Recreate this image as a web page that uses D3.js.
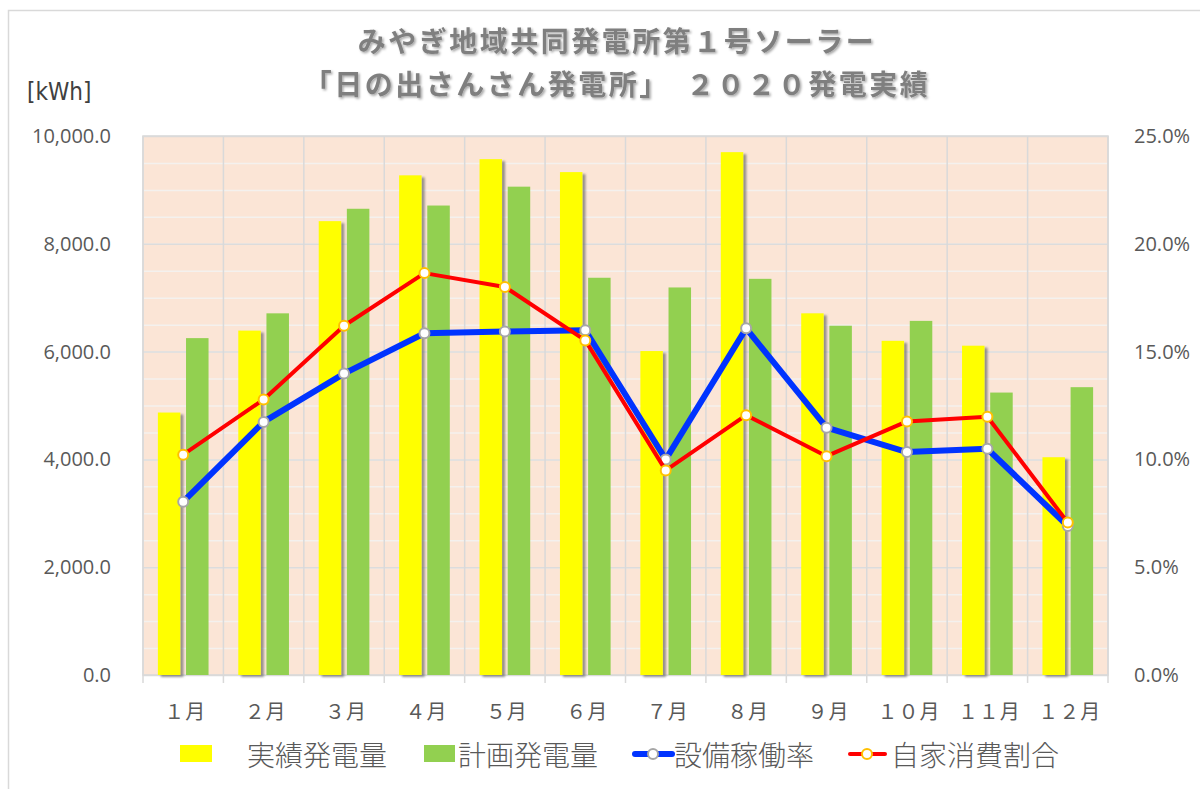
<!DOCTYPE html>
<head>
  <meta charset="utf-8">
  <script src="https://d3js.org/d3.v7.min.js"></script>
  <style>
  body { margin: 0; background: #fff; }
  #chart text { font-family: "Noto Sans CJK JP", "Noto Sans", sans-serif; fill: #595959; }
  #chart .num text { font-family: "Open Sans", "Noto Sans", sans-serif; font-size: 20px; }
  </style>
</head>

<body>
  <svg id="chart"></svg>
  <script>

    var months = ["１月", "２月", "３月", "４月", "５月", "６月", "７月", "８月", "９月", "１０月", "１１月", "１２月"];
    var actual = [4870, 6390, 8420, 9270, 9570, 9330, 6010, 9700, 6710, 6200, 6110, 4040];
    var plan = [6250, 6710, 8650, 8710, 9060, 7370, 7190, 7350, 6480, 6570, 5240, 5340];
    var utilRate = [0.0804, 0.1174, 0.1398, 0.1585, 0.1593, 0.1599, 0.1000, 0.1608, 0.1147, 0.1034, 0.1049, 0.0691];
    var selfRate = [0.1022, 0.1278, 0.1620, 0.1864, 0.1800, 0.1552, 0.0949, 0.1205, 0.1015, 0.1176, 0.1198, 0.0707];
    var seriesNames = ["実績発電量", "計画発電量", "設備稼働率", "自家消費割合"];
    var leftTicks = [0, 2000, 4000, 6000, 8000, 10000];
    var rightTicks = [0, 0.05, 0.10, 0.15, 0.20, 0.25];
    var titleLines = ["みやぎ地域共同発電所第１号ソーラー", "「日の出さんさん発電所」　２０２０発電実績"];

    var width = 1200,
        height = 789,
        plotL = 143, plotR = 1108, plotT = 136, plotB = 675;

    var svg = d3.select('#chart')
        .attr('width', width)
        .attr('height', height);

    var defs = svg.append('defs');
    defs.append('filter').attr('id', 'barShadow').attr('x', '-20%').attr('y', '-5%').attr('width', '150%').attr('height', '110%')
      .append('feDropShadow').attr('dx', 3).attr('dy', 2).attr('stdDeviation', 1.2)
        .attr('flood-color', '#6b6b6b').attr('flood-opacity', 0.7);
    defs.append('filter').attr('id', 'titleShadow')
      .append('feDropShadow').attr('dx', 1.5).attr('dy', 1.5).attr('stdDeviation', 0.8)
        .attr('flood-color', '#000').attr('flood-opacity', 0.35);

    // chart border
    svg.append('rect')
        .attr('x', 8.5).attr('y', 10.5)
        .attr('width', 1300).attr('height', 900)
        .attr('fill', 'none').attr('stroke', '#d9d9d9').attr('stroke-width', 1.5);

    var x = d3.scaleBand().domain(months).range([plotL, plotR]);
    var bw = x.bandwidth();
    var xSub = d3.scaleBand().domain(['actual', 'plan'])
        .range([bw * 0.185, bw * 0.815]).paddingInner(0.2);

    var y = d3.scaleLinear().domain([0, 10000]).range([plotB, plotT]);
    var y2 = d3.scaleLinear().domain([0, 0.25]).range([plotB, plotT]);

    // plot background
    svg.append('rect')
        .attr('x', plotL).attr('y', plotT)
        .attr('width', plotR - plotL).attr('height', plotB - plotT)
        .attr('fill', '#fbe5d6');

    // minor gridlines
    svg.append('g')
        .attr('transform', 'translate(' + plotL + ',0)')
        .call(d3.axisLeft(y).tickValues(d3.range(500, 10000, 500)).tickSize(-(plotR - plotL)).tickFormat(''))
        .call(function(g) {
          g.select('.domain').remove();
          g.selectAll('line').attr('stroke', '#f4f1ee').attr('stroke-width', 1.5);
        });

    // major gridlines
    svg.append('g')
        .attr('transform', 'translate(' + plotL + ',0)')
        .call(d3.axisLeft(y).tickValues(leftTicks).tickSize(-(plotR - plotL)).tickFormat(''))
        .call(function(g) {
          g.select('.domain').remove();
          g.selectAll('line').attr('stroke', '#dcdcdc').attr('stroke-width', 1.5);
        });

    // vertical category gridlines + tick marks
    var bounds = months.map(function(m) { return x(m); }).concat([plotR]);
    svg.append('g').selectAll('line')
        .data(bounds)
      .enter().append('line')
        .attr('x1', function(d) { return d; }).attr('x2', function(d) { return d; })
        .attr('y1', plotT).attr('y2', plotB + 8)
        .attr('stroke', '#d9d9d9').attr('stroke-width', 1.5);

    // plot border
    svg.append('rect')
        .attr('x', plotL).attr('y', plotT)
        .attr('width', plotR - plotL).attr('height', plotB - plotT)
        .attr('fill', 'none').attr('stroke', '#d9d9d9').attr('stroke-width', 1.5);

    // bars
    var group = svg.append('g').selectAll('g')
        .data(months)
      .enter().append('g')
        .attr('transform', function(d) { return 'translate(' + x(d) + ',0)'; });

    group.append('rect')
        .attr('x', xSub('actual'))
        .attr('y', function(d, i) { return y(actual[i]); })
        .attr('width', xSub.bandwidth())
        .attr('height', function(d, i) { return plotB - y(actual[i]); })
        .attr('fill', '#ffff00')
        .attr('filter', 'url(#barShadow)');

    group.append('rect')
        .attr('x', xSub('plan'))
        .attr('y', function(d, i) { return y(plan[i]); })
        .attr('width', xSub.bandwidth())
        .attr('height', function(d, i) { return plotB - y(plan[i]); })
        .attr('fill', '#92d050');

    // lines
    function cx(i) { return x(months[i]) + bw / 2; }
    var line = d3.line()
        .x(function(d, i) { return cx(i); })
        .y(function(d) { return y2(d); });

    function drawSeries(vals, color, lw, mstroke) {
      svg.append('path')
          .datum(vals)
          .attr('d', line)
          .attr('fill', 'none')
          .attr('stroke', color)
          .attr('stroke-width', lw)
          .attr('stroke-linejoin', 'round');
      svg.append('g').selectAll('circle')
          .data(vals)
        .enter().append('circle')
          .attr('cx', function(d, i) { return cx(i); })
          .attr('cy', function(d) { return y2(d); })
          .attr('r', 5)
          .attr('fill', '#fff')
          .attr('stroke', mstroke)
          .attr('stroke-width', 2);
    }
    drawSeries(utilRate, '#0033ff', 6, '#a6a6a6');
    drawSeries(selfRate, '#ff0000', 4, '#ffc000');

    // left axis labels
    svg.append('g')
        .attr('class', 'num')
        .attr('transform', 'translate(111,0)')
        .call(d3.axisLeft(y).tickValues(leftTicks).tickSize(0).tickPadding(0).tickFormat(d3.format(',.1f')))
        .call(function(g) { g.select('.domain').remove(); g.selectAll('text').attr('fill', '#595959'); });

    // right axis labels
    svg.append('g')
        .attr('class', 'num')
        .attr('transform', 'translate(1134,0)')
        .call(d3.axisRight(y2).tickValues(rightTicks).tickSize(0).tickPadding(0).tickFormat(d3.format('.1%')))
        .call(function(g) { g.select('.domain').remove(); g.selectAll('text').attr('fill', '#595959'); });

    // x labels
    svg.append('g').selectAll('text')
        .data(months)
      .enter().append('text')
        .attr('x', function(d) { return x(d) + bw / 2 + 2; })
        .attr('y', 712)
        .attr('dy', '0.35em')
        .attr('text-anchor', 'middle')
        .style('font-size', '20px')
        .style('letter-spacing', '1px')
        .text(function(d) { return d; });

    // title
    svg.append('g').selectAll('text')
        .data(titleLines)
      .enter().append('text')
        .attr('x', 617)
        .attr('y', function(d, i) { return 42 + i * 43; })
        .attr('dy', '0.35em')
        .attr('text-anchor', 'middle')
        .attr('filter', 'url(#titleShadow)')
        .style('font-size', '28px')
        .style('font-weight', 'bold')
        .style('letter-spacing', '2.5px')
        .style('fill', '#7f7f7f')
        .text(function(d) { return d; });

    svg.append('text')
        .attr('x', 27).attr('y', 92)
        .attr('dy', '0.35em')
        .style('font-size', '24px')
        .style('fill', '#404040')
        .style('font-family', '"Liberation Sans Narrow", "DejaVu Sans Condensed", sans-serif')
        .text('[kWh]');

    // legend
    var lg = svg.append('g');
    var legendX = [180, 424, 635, 850];
    var textX = [247, 458, 674, 891];
    lg.append('rect').attr('x', legendX[0]).attr('y', 745).attr('width', 32).attr('height', 17).attr('fill', '#ffff00');
    lg.append('rect').attr('x', legendX[1]).attr('y', 745).attr('width', 31).attr('height', 17).attr('fill', '#92d050');
    lg.append('line').attr('x1', legendX[2]).attr('x2', legendX[2] + 37).attr('y1', 754).attr('y2', 754)
        .attr('stroke', '#0033ff').attr('stroke-width', 6).attr('stroke-linecap', 'round');
    lg.append('circle').attr('cx', legendX[2] + 18).attr('cy', 754).attr('r', 5)
        .attr('fill', '#fff').attr('stroke', '#a6a6a6').attr('stroke-width', 2);
    lg.append('line').attr('x1', legendX[3]).attr('x2', legendX[3] + 35).attr('y1', 754).attr('y2', 754)
        .attr('stroke', '#ff0000').attr('stroke-width', 4).attr('stroke-linecap', 'round');
    lg.append('circle').attr('cx', legendX[3] + 17).attr('cy', 754).attr('r', 5)
        .attr('fill', '#fff').attr('stroke', '#ffc000').attr('stroke-width', 2);
    lg.selectAll('text')
        .data(seriesNames)
      .enter().append('text')
        .attr('x', function(d, i) { return textX[i]; })
        .attr('y', 756)
        .attr('dy', '0.35em')
        .style('font-size', '28px')
        .style('font-weight', 300)
        .text(function(d) { return d; });

  </script>
</body>
